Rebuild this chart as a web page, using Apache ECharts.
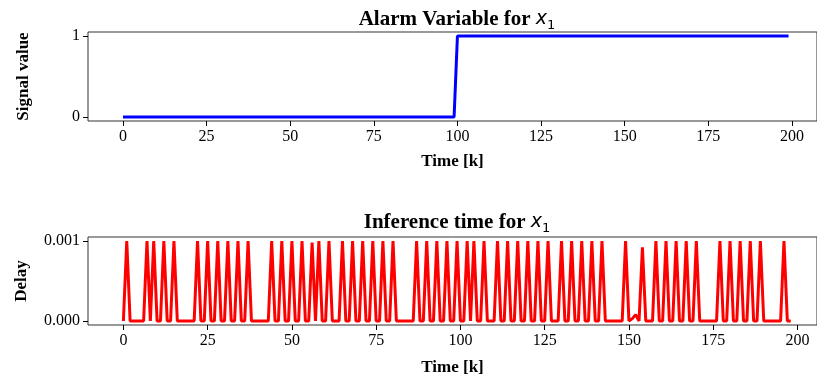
<!DOCTYPE html>
<html>
<head>
<meta charset="utf-8">
<script src="https://cdn.jsdelivr.net/npm/echarts@6/dist/echarts.min.js"></script>
<style>
  html, body { margin: 0; padding: 0; background: #fff; }
  #chart { width: 817px; height: 379px; }
</style>
</head>
<body>
<div id="chart"></div>
<script>
// alarm signal, one value per time step k = 0..199
var alarm = [
  0,0,0,0,0,0,0,0,0,0,0,0,0,0,0,0,0,0,0,0,0,0,0,0,0,
  0,0,0,0,0,0,0,0,0,0,0,0,0,0,0,0,0,0,0,0,0,0,0,0,0,
  0,0,0,0,0,0,0,0,0,0,0,0,0,0,0,0,0,0,0,0,0,0,0,0,0,
  0,0,0,0,0,0,0,0,0,0,0,0,0,0,0,0,0,0,0,0,0,0,0,0,0,
  1,1,1,1,1,1,1,1,1,1,1,1,1,1,1,1,1,1,1,1,1,1,1,1,1,
  1,1,1,1,1,1,1,1,1,1,1,1,1,1,1,1,1,1,1,1,1,1,1,1,1,
  1,1,1,1,1,1,1,1,1,1,1,1,1,1,1,1,1,1,1,1,1,1,1,1,1,
  1,1,1,1,1,1,1,1,1,1,1,1,1,1,1,1,1,1,1,1,1,1,1,1,1
];

// inference delay, one value per time step k = 0..198
var delay = [
  0,.001,0,0,0,0,0,.001,0,.001,                 // 0-9
  0,0,.001,0,0,.001,0,0,0,0,                    // 10-19
  0,0,.001,0,0,.001,0,0,.001,0,                 // 20-29
  0,.001,0,0,.001,0,0,.001,0,0,                 // 30-39
  0,0,0,0,.001,0,0,.001,0,0,                    // 40-49
  .001,0,0,.001,0,0,.00098,0,.001,0,            // 50-59
  0,.001,0,0,0,.001,0,0,.001,0,                 // 60-69
  0,.001,0,0,.001,0,0,.001,0,0,                 // 70-79
  .001,0,0,0,0,0,0,.001,0,0,                    // 80-89
  .001,0,0,.001,0,0,.001,0,0,.001,              // 90-99
  0,0,.001,0,.001,0,0,.001,0,0,                 // 100-109
  0,.001,0,0,.001,0,0,.001,0,0,                 // 110-119
  .001,0,0,.001,0,0,.001,0,0,0,                 // 120-129
  .001,0,0,.001,0,0,.001,0,0,.001,              // 130-139
  0,0,.001,0,0,0,0,0,0,.001,                    // 140-149
  0,.00003,.00008,0,.00092,0,0,0,.001,0,        // 150-159
  0,.001,0,0,.001,0,0,.001,0,0,                 // 160-169
  .001,0,0,0,0,0,0,.001,0,0,                    // 170-179
  .001,0,0,.001,0,0,.001,0,0,.001,              // 180-189
  0,0,0,0,0,0,.001,0,0                          // 190-198
];

var xTicks = [0, 25, 50, 75, 100, 125, 150, 175, 200];
var alarmTicks = [0, 1];
var delayTicks = [0, 0.001];

var serif = "Liberation Serif";

function toPairs(arr) {
  return arr.map(function (v, k) { return [k, v]; });
}

function titleRich() {
  return {
    a: { fontFamily: serif, fontWeight: "bold", fontSize: 21, color: "#000" },
    x: { fontFamily: "DejaVu Sans", fontStyle: "italic", fontWeight: "normal", fontSize: 19, color: "#000" },
    s: { fontFamily: "DejaVu Sans", fontWeight: "normal", fontSize: 13, color: "#000", padding: [12, 0, 0, 0] }
  };
}

function xAxisOf(grid, min, max, gap) {
  return {
    type: "value",
    gridIndex: grid,
    min: min,
    max: max,
    name: "Time [k]",
    nameLocation: "middle",
    nameGap: gap,
    nameTextStyle: { fontFamily: serif, fontWeight: "bold", fontSize: 17, color: "#000" },
    axisLine: { show: false, onZero: false },
    splitLine: { show: false },
    axisTick: { show: true, length: 5, customValues: xTicks, lineStyle: { color: "#000" } },
    axisLabel: { customValues: xTicks, margin: 8, fontFamily: serif, fontSize: 16, color: "#000" }
  };
}

function yAxisOf(grid, min, max, ticks, name, gap, fmt) {
  return {
    type: "value",
    gridIndex: grid,
    min: min,
    max: max,
    name: name,
    nameLocation: "middle",
    nameGap: gap,
    nameTextStyle: { fontFamily: serif, fontWeight: "bold", fontSize: 17, color: "#000" },
    axisLine: { show: false, onZero: false },
    splitLine: { show: false },
    axisTick: { show: true, length: 5, customValues: ticks, lineStyle: { color: "#000" } },
    axisLabel: { customValues: ticks, margin: 8, fontFamily: serif, fontSize: 16, color: "#000", formatter: fmt }
  };
}

var myChart = echarts.init(document.getElementById("chart"));

var option = {
  backgroundColor: "#fff",
  animation: false,
  title: [
    {
      text: "{a|Alarm Variable for }{x|x}{s|1}",
      left: 452, top: 2, textAlign: "center",
      textStyle: { rich: titleRich() }
    },
    {
      text: "{a|Inference time for }{x|x}{s|1}",
      left: 452, top: 205, textAlign: "center",
      textStyle: { rich: titleRich() }
    }
  ],
  grid: [
    { left: 88, top: 32, width: 730, height: 89, show: true, borderColor: "#333", borderWidth: 1 },
    { left: 88, top: 237, width: 730, height: 88, show: true, borderColor: "#333", borderWidth: 1 }
  ],
  xAxis: [
    xAxisOf(0, -10.45, 207.5, 32),
    xAxisOf(1, -10.5, 205.8, 34)
  ],
  yAxis: [
    yAxisOf(0, -0.05, 1.05, alarmTicks, "Signal value", 56, function (v) { return String(v); }),
    yAxisOf(1, -0.00005, 0.00105, delayTicks, "Delay", 58, function (v) { return v.toFixed(3); })
  ],
  series: [
    {
      type: "line",
      xAxisIndex: 0, yAxisIndex: 0,
      data: toPairs(alarm),
      showSymbol: false,
      lineStyle: { color: "#0000ff", width: 3 }
    },
    {
      type: "line",
      xAxisIndex: 1, yAxisIndex: 1,
      data: toPairs(delay),
      showSymbol: false,
      lineStyle: { color: "#ff0000", width: 3 }
    }
  ]
};

myChart.setOption(option);
</script>
</body>
</html>
